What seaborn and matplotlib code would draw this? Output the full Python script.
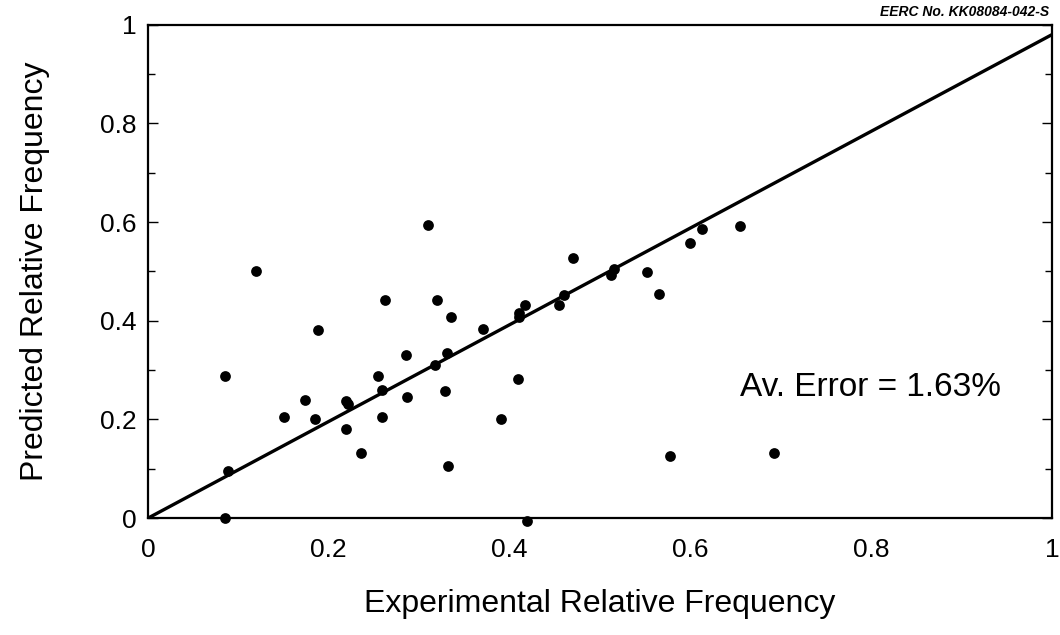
import numpy as np
import pandas as pd
import matplotlib
matplotlib.use("Agg")
import matplotlib.pyplot as plt
from matplotlib.ticker import MultipleLocator
import seaborn as sns

# data
exp_freq = [0.120, 0.262, 0.320, 0.188, 0.285, 0.318, 0.085, 0.254, 0.259, 0.174,
            0.219, 0.221, 0.151, 0.185, 0.259, 0.286, 0.219, 0.236, 0.089, 0.085,
            0.470, 0.515, 0.512, 0.552, 0.565, 0.335, 0.417, 0.410, 0.410, 0.460,
            0.455, 0.371, 0.331, 0.329, 0.409, 0.391, 0.332, 0.578, 0.419, 0.600,
            0.613, 0.655, 0.692, 0.310]
pred_freq = [0.501, 0.443, 0.443, 0.381, 0.331, 0.310, 0.289, 0.289, 0.260, 0.240,
             0.237, 0.231, 0.206, 0.200, 0.205, 0.245, 0.180, 0.133, 0.096, 0.000,
             0.527, 0.504, 0.493, 0.498, 0.454, 0.407, 0.432, 0.416, 0.408, 0.452,
             0.432, 0.384, 0.335, 0.257, 0.282, 0.200, 0.105, 0.126, -0.005, 0.557,
             0.586, 0.593, 0.132, 0.594]

# fitted (parity) line
line_x = [0.0, 1.0]
line_y = [0.0, 0.98]

x_ticks = [0, 0.2, 0.4, 0.6, 0.8, 1]
x_ticklabels = ["0", "0.2", "0.4", "0.6", "0.8", "1"]
y_ticks = [0, 0.2, 0.4, 0.6, 0.8, 1]
y_ticklabels = ["0", "0.2", "0.4", "0.6", "0.8", "1"]

df = pd.DataFrame({"exp": exp_freq, "pred": pred_freq})

sns.set_style("ticks")
plt.rcParams["font.family"] = ["Liberation Sans", "DejaVu Sans"]
plt.rcParams["text.color"] = "black"
plt.rcParams["axes.labelcolor"] = "black"
plt.rcParams["xtick.color"] = "black"
plt.rcParams["ytick.color"] = "black"

fig = plt.figure(figsize=(10.6, 6.35), dpi=100)
ax = fig.add_axes([0.1396, 0.184, 0.8528, 0.777])

sns.lineplot(x=line_x, y=line_y, ax=ax, color="black", linewidth=2.4)
sns.scatterplot(data=df, x="exp", y="pred", ax=ax, color="black", s=60,
                edgecolor="black", linewidth=0, clip_on=False, zorder=3)

ax.set_xlim(0, 1)
ax.set_ylim(0, 1)
ax.set_xticks(x_ticks)
ax.set_xticklabels(x_ticklabels)
ax.set_yticks(y_ticks)
ax.set_yticklabels(y_ticklabels)
ax.yaxis.set_minor_locator(MultipleLocator(0.1))

ax.tick_params(axis="x", length=0, pad=14, labelsize=19)
ax.tick_params(axis="y", which="major", direction="in", length=7, width=1,
               pad=8, labelsize=19, right=True)
ax.tick_params(axis="y", which="minor", direction="in", length=5, width=1, right=True)

for sp in ax.spines.values():
    sp.set_visible(True)
    sp.set_linewidth(1.6)
    sp.set_color("black")

ax.set_xlabel("Experimental Relative Frequency", fontsize=23, labelpad=20)
ax.set_ylabel("Predicted Relative Frequency", fontsize=23, labelpad=36)

ax.text(0.655, 0.264, "Av. Error = 1.63%", transform=ax.transAxes,
        fontsize=24, ha="left", va="center")
fig.text(0.99, 0.981, "EERC No. KK08084-042-S", fontsize=10, style="italic",
         weight="bold", ha="right", va="center")

fig.savefig("out.png", dpi=100)
